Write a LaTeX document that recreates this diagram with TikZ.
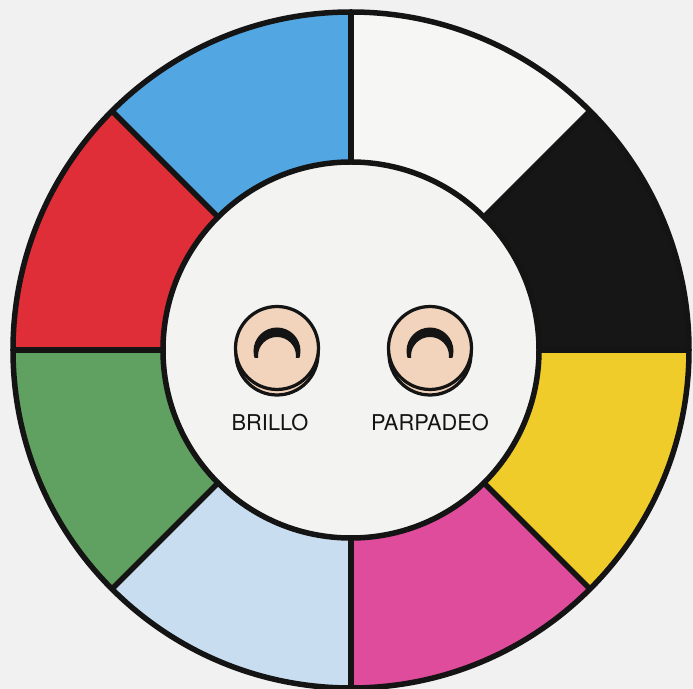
\documentclass[tikz,border=0pt]{standalone}
\usepackage{fontspec}
\setmainfont{TeX Gyre Heros}
\usepackage{tikz}
\usetikzlibrary{positioning}

\definecolor{paper}{RGB}{240,241,240}
\definecolor{segblue}{RGB}{82,166,225}
\definecolor{segwhite}{RGB}{246,246,244}
\definecolor{segblack}{RGB}{22,22,22}
\definecolor{segyellow}{RGB}{240,204,42}
\definecolor{segmagenta}{RGB}{224,76,156}
\definecolor{seglightblue}{RGB}{200,222,240}
\definecolor{seggreen}{RGB}{96,160,96}
\definecolor{segred}{RGB}{224,46,56}
\definecolor{centrewhite}{RGB}{243,243,241}
\definecolor{knobpeach}{RGB}{242,212,188}

\begin{document}
\begin{tikzpicture}[x=0.02cm, y=0.02cm,
    ring/.style={line width=0.11cm, black!92},
    knob/.style={circle, draw=black!92, line width=0.065cm, fill=knobpeach, minimum size=1.66cm, inner sep=0pt},
    lbl/.style={font=\fontsize{12.4}{14}\selectfont, text=black!92}]

    % --- 背景 ---
    \fill[paper] (-351,-339) rectangle (342,350);
    \useasboundingbox (-351,-339) rectangle (342,350);

    % 色环 (8 个扇区)
    \foreach \a/\b/\col in {45/90/segwhite, 0/45/segblack, -45/0/segyellow, -90/-45/segmagenta,
                            -135/-90/seglightblue, -180/-135/seggreen, 135/180/segred, 90/135/segblue}
        \fill[\col] (0,0) -- (\a:338) arc[start angle=\a, end angle=\b, radius=338] -- cycle;

    % 中心圆盘
    \fill[centrewhite] (0,0) circle (188);

    % 分隔线
    \foreach \a in {0,45,...,315}
        \draw[ring] (\a:188) -- (\a:338);
    \draw[ring] (0,0) circle (338);
    \draw[ring] (0,0) circle (188);

    % --- 按钮 ---
    \foreach \bx/\nm in {-74/brillo, 79/parpadeo} {
        % 底座 (阴影)
        \draw[fill=knobpeach, draw=black!92, line width=0.065cm] (\bx,-4) circle (41);
        \node[knob] (\nm) at (\bx,2) {};
        % 月牙形标记
        \begin{scope}
            \clip (\bx-30,-8) rectangle (\bx+30,40);
            \fill[black!92, even odd rule] (\bx,-1) circle (23.5) (\bx,-6) circle (19);
        \end{scope}
    }

    % 标签
    \node[lbl, below=0.33cm of brillo, xshift=-0.14cm] (brillo lbl) {BRILLO};
    \node[lbl, below=0.33cm of parpadeo] (parpadeo lbl) {PARPADEO};
\end{tikzpicture}
\end{document}
